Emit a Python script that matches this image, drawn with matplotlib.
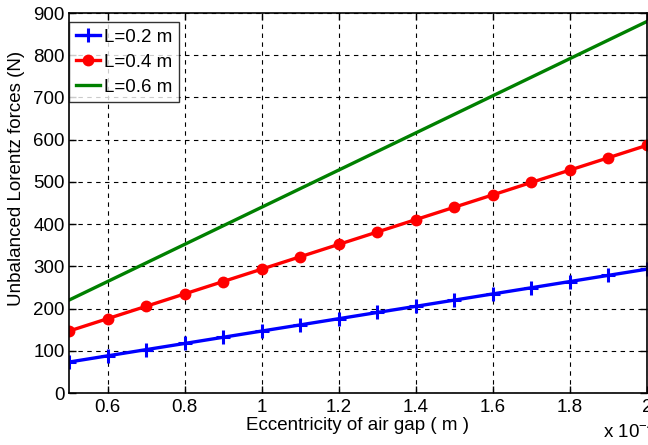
import matplotlib
matplotlib.use("Agg")
import matplotlib.pyplot as plt

plt.rcParams['font.family'] = ['Liberation Sans', 'DejaVu Sans']

x = [0.5, 0.6, 0.7, 0.8, 0.9, 1.0, 1.1, 1.2, 1.3, 1.4, 1.5, 1.6, 1.7, 1.8, 1.9, 2.0]
f_02 = [73.3, 88.0, 102.7, 117.3, 132.0, 146.7, 161.3, 176.0, 190.7, 205.3,
        220.0, 234.7, 249.3, 264.0, 278.7, 293.3]
f_04 = [146.7, 176.0, 205.3, 234.7, 264.0, 293.3, 322.7, 352.0, 381.3, 410.7,
        440.0, 469.3, 498.7, 528.0, 557.3, 586.7]
f_06 = [220, 264, 308, 352, 396, 440, 484, 528, 572, 616, 660, 704, 748, 792, 836, 880]
labels = ['L=0.2 m', 'L=0.4 m', 'L=0.6 m']

FS = 13.5
fig = plt.figure(figsize=(6.48, 4.45), dpi=100)
ax = fig.add_axes([69/648, 1-393/445, (647-69)/648, (393-13)/445])

ax.plot(x, f_02, color='#0000ff', lw=2.4, marker='+', ms=10, mew=2.2, label=labels[0])
ax.plot(x, f_04, color='#ff0000', lw=2.4, marker='o', ms=7, mew=1.5, label=labels[1])
ax.plot(x, f_06, color='#008000', lw=2.4, label=labels[2])

ax.set_xlim(0.5, 2.0)
ax.set_ylim(0, 900)
ax.set_xticks([0.6, 0.8, 1.0, 1.2, 1.4, 1.6, 1.8, 2.0])
ax.set_xticklabels(['0.6', '0.8', '1', '1.2', '1.4', '1.6', '1.8', '2'])
ax.set_yticks(range(0, 901, 100))
ax.tick_params(direction='in', top=True, right=True, labelsize=FS, length=5, width=1)
ax.tick_params(axis='y', pad=3)
ax.tick_params(axis='x', pad=4)
ax.grid(True, color='black', linestyle=(0, (4, 4)), linewidth=0.8)
for s in ax.spines.values():
    s.set_linewidth(1.2)

ax.set_xlabel('Eccentricity of air gap ( m )', fontsize=FS)
ax.xaxis.set_label_coords(0.5, -(417 - 393) / 380)
ax.set_ylabel('Unbalanced Lorentz forces (N)', fontsize=FS)
ax.yaxis.set_label_coords((25 - 69) / 578, (393 - 178) / 380)
fig.text(603/648, 1-432/445, r'x 10$^{\mathregular{-4}}$', fontsize=FS, va='center', ha='left')

leg = ax.legend(loc='upper left', bbox_to_anchor=(0, (393 - 22) / 380), fontsize=FS, frameon=True,
                fancybox=False, edgecolor='black', borderaxespad=0, handlelength=1.3,
                handletextpad=0.2, borderpad=0.35, labelspacing=0.42)
leg.get_frame().set_linewidth(1.0)

fig.savefig('out.png', dpi=100)
